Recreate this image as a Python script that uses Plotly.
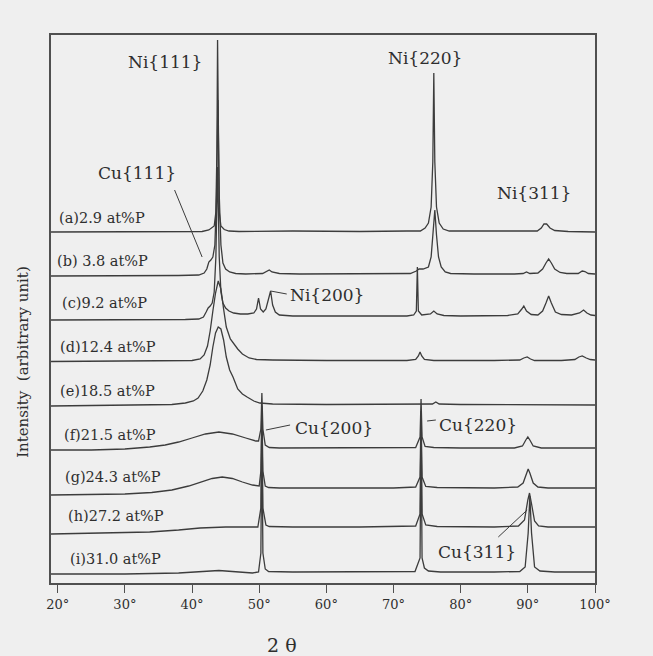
import plotly.graph_objects as go
import numpy as np

# ---------------- data (2-theta in degrees, intensity in arbitrary units above each pattern's baseline)
tt_a = [19.0, 30.0, 38.0, 41.5, 42.5, 42.9, 43.3, 43.55, 43.7, 43.8, 43.9, 44.05, 44.3, 44.8, 45.5, 47.0, 55.0, 65.0, 72.0, 74.0,
        74.7, 75.2, 75.6, 75.85, 76.0, 76.15, 76.4, 76.8, 77.4, 78.3, 86.0, 91.4, 92.0, 92.4, 92.8, 93.3, 94.0, 96.0, 100.0]
I_a = [0, 0, 0, 0.5, 2, 4, 6, 20, 80, 192, 80, 20, 6, 2.5, 1, 0.5, 1, 0.5, 1, 1,
       4, 9, 25, 70, 159, 70, 25, 9, 3, 1, 1, 1, 4, 8, 8, 4, 1.5, 0.5, 0]

tt_b = [19.0, 30.0, 38.0, 41.0, 41.8, 42.2, 42.5, 42.8, 43.1, 43.4, 43.65, 43.85, 44.05, 44.3, 44.6, 45.0, 45.6, 46.5, 48.0, 50.5,
        51.1, 51.5, 51.9, 53.0, 56.0, 65.0, 70.0, 72.5, 73.4, 73.8, 74.4, 75.2, 75.6, 75.9, 76.15, 76.4, 76.7, 77.1, 77.7, 78.5,
        82.0, 88.0, 89.3, 89.8, 90.3, 91.5, 92.2, 92.7, 93.1, 93.5, 94.0, 94.8, 95.8, 97.5, 98.1, 98.5, 99.0, 100.0]
I_b = [-1, -1, -0.5, 0, 2, 6, 13, 15, 18, 30, 80, 175, 80, 30, 12, 6, 3, 1.5, 1, 1.5,
       4, 5, 3, 1.5, 1, 1, 1, 1.5, 4, 6, 6, 8, 18, 40, 65, 40, 18, 8, 3, 1.5,
       1, 1, 1.5, 3, 1.5, 2, 6, 12, 16, 12, 6, 2.5, 1.5, 1.5, 4, 3.5, 1.5, 1]

tt_c = [19.0, 30.0, 39.0, 41.0, 41.7, 42.1, 42.4, 42.7, 43.0, 43.3, 43.55, 43.8, 44.05, 44.3, 44.6, 45.0, 45.5, 46.2, 47.2, 48.3,
        49.2, 49.6, 49.9, 50.2, 50.6, 51.0, 51.4, 51.7, 52.0, 52.4, 53.0, 55.0, 65.0, 72.0, 73.0, 73.4, 73.55, 73.7, 74.2, 75.5,
        76.0, 76.5, 77.5, 80.0, 87.0, 88.5, 89.1, 89.4, 89.8, 90.5, 91.5, 92.2, 92.7, 93.1, 93.5, 94.1, 95.0, 96.5, 97.7, 98.3,
        98.8, 99.4, 100.0]
I_c = [-3, -3, -2.5, -2, 0, 5, 9, 11, 14, 25, 60, 150, 60, 25, 14, 9, 6, 4, 3, 3,
       4, 8, 19, 8, 5, 8, 20, 26, 12, 5, 2, 1, 1, 1, 2, 6, 50, 6, 2, 3,
       6, 3, 1.5, 1, 1.5, 3, 8, 11, 6, 2.5, 2, 6, 14, 21, 14, 5, 2.5, 2, 4, 7,
       4, 2, 1.5]

tt_d = [19.0, 30.0, 38.0, 40.0, 41.2, 41.8, 42.3, 42.7, 43.1, 43.5, 43.9, 44.3, 44.7, 45.1, 45.7, 46.3, 46.8, 47.5, 48.5, 49.6,
        52.0, 60.0, 72.0, 73.3, 73.7, 73.95, 74.2, 74.6, 76.0, 85.0, 88.8, 89.4, 89.9, 90.4, 91.0, 95.0, 97.0, 97.6, 98.1, 98.7,
        99.3, 100.0]
I_d = [-0.5, 0, 0, 0.5, 2, 6, 15, 30, 50, 68, 80, 72, 52, 34, 22, 16, 12, 7, 3, 1.5,
       1, 0.5, 0.5, 1.5, 5, 9, 5, 1.5, 0.5, 0.5, 1, 3, 4, 2, 0.5, 0.5, 1.5, 4, 5, 3,
       1.5, 1]

tt_e = [19.0, 30.0, 37.0, 39.0, 40.2, 40.9, 41.6, 42.2, 42.7, 43.1, 43.5, 43.9, 44.3, 44.7, 45.1, 45.6, 46.1, 46.8, 47.5, 48.2,
        49.2, 50.1, 52.0, 60.0, 72.0, 75.8, 76.3, 76.8, 80.0, 90.0, 100.0]
I_e = [-1, 0, 0.5, 2, 4, 7, 14, 25, 40, 58, 72, 78, 76, 65, 48, 35, 28, 16, 11, 8,
       4, 2, 1, 0.5, 0.5, 1, 3, 1, 0.5, 0.5, 0]

tt_f = [19.0, 25.0, 30.0, 33.7, 36.0, 38.0, 40.0, 42.0, 44.0, 46.0, 48.0, 49.5, 49.9, 50.25, 50.4, 50.55, 50.9, 51.5, 53.0, 60.0,
        70.0, 73.3, 73.95, 74.1, 74.25, 74.7, 76.0, 80.0, 88.0, 89.2, 89.7, 90.0, 90.3, 90.8, 92.0, 100.0]
I_f = [-1, -1, 0, 2, 4, 7, 11, 15, 17, 15, 11, 8, 8, 20, 56, 20, 4, 1.5, 1, 1,
       1, 1.5, 12, 50, 12, 2.5, 1.5, 1, 1, 3, 9, 12, 9, 3, 1, 1]

tt_g = [19.0, 25.0, 30.0, 34.0, 37.0, 39.5, 41.5, 43.0, 44.5, 46.0, 47.5, 49.0, 50.0, 50.25, 50.4, 50.55, 50.9, 51.4, 53.0, 60.0,
        70.0, 73.3, 73.95, 74.1, 74.25, 74.8, 76.5, 85.0, 88.5, 89.3, 89.8, 90.05, 90.3, 90.8, 91.5, 93.0, 100.0]
I_g = [-4, -3.5, -3, -1.5, 1, 5, 9, 12.5, 14, 12.5, 9, 6, 5, 20, 85, 20, 5, 3.5, 3, 3,
       3, 4, 14, 80, 14, 4.5, 3.5, 3, 4, 8, 18, 22, 18, 8, 4, 3, 3]

tt_h = [19.0, 27.0, 33.7, 38.0, 41.2, 45.0, 49.8, 50.25, 50.4, 50.55, 51.0, 51.5, 55.0, 65.0, 73.3, 73.95, 74.1, 74.25, 74.8, 76.5,
        85.0, 88.6, 89.5, 90.0, 90.25, 90.5, 91.0, 91.6, 93.0, 100.0]
I_h = [-4, -3, -2, 0, 2, 3, 3, 22, 120, 22, 5, 3.5, 3, 3, 4, 16, 110, 16, 5, 3.5,
       3, 4, 10, 30, 37, 28, 9, 4, 3, 3]

tt_i = [19.0, 30.0, 38.0, 42.0, 44.0, 46.0, 49.0, 49.9, 50.25, 50.4, 50.55, 50.9, 51.4, 55.0, 70.0, 73.2, 73.95, 74.1, 74.25, 74.6,
        75.2, 77.0, 85.0, 88.8, 89.6, 90.05, 90.3, 90.55, 91.0, 91.8, 94.0, 100.0]
I_i = [-1, -1, 0, 1.5, 2.5, 1.5, 0, 1, 20, 150, 20, 4, 1.5, 1, 1, 1.5, 15, 150, 15, 5,
       2, 1, 1, 1.5, 6, 40, 77, 40, 6, 2, 1, 1]

pattern_labels = ["(a)2.9 at%P", "(b) 3.8 at%P", "(c)9.2 at%P", "(d)12.4 at%P", "(e)18.5 at%P",
                  "(f)21.5 at%P", "(g)24.3 at%P", "(h)27.2 at%P", "(i)31.0 at%P"]
offsets = [351, 308, 266, 222, 178, 134, 92, 53, 10]

tick_vals = [20, 30, 40, 50, 60, 70, 80, 90, 100]
tick_text = ["20°", "30°", "40°", "50°", "60°", "70°", "80°", "90°", "100°"]

patterns = [(tt_a, I_a), (tt_b, I_b), (tt_c, I_c), (tt_d, I_d), (tt_e, I_e),
            (tt_f, I_f), (tt_g, I_g), (tt_h, I_h), (tt_i, I_i)]

# ---------------- figure
LINE = "#3c3c3c"
TXT = "#2e2e2e"
BG = "#efefef"
SERIF = "DejaVu Serif"

fig = go.Figure()
for (tt, inten), off, name in zip(patterns, offsets, pattern_labels):
    fig.add_trace(go.Scatter(x=tt, y=np.array(inten, dtype=float) + off, mode="lines",
                             line=dict(color=LINE, width=1.3), name=name, showlegend=False,
                             hoverinfo="skip"))

ann = []
label_x = [19.85, 19.55, 20.3, 20.0, 20.0, 20.6, 20.75, 21.2, 21.5]
for lbl, off, lx in zip(pattern_labels, offsets, label_x):
    ann.append(dict(x=lx, y=off + 14, text=lbl, xanchor="left", yanchor="middle", showarrow=False,
                    font=dict(family=SERIF, size=14.5, color=TXT)))

peak_font = dict(family=SERIF, size=17, color=TXT)
peak_labels = [
    ("Ni{111}", 35.9, 521, "center"),
    ("Cu{111}", 31.8, 410, "center"),
    ("Ni{220}", 74.7, 525, "center"),
    ("Ni{311}", 90.9, 390, "center"),
    ("Ni{200}", 54.3, 288, "left"),
    ("Cu{200}", 55.0, 155, "left"),
    ("Cu{220}", 76.5, 158, "left"),
    ("Cu{311}", 82.4, 31, "center"),
]
for t, x, y, xa in peak_labels:
    ann.append(dict(x=x, y=y, text=t, xanchor=xa, yanchor="middle", showarrow=False, font=peak_font))

ann.append(dict(x=53.4, yref="paper", y=-0.113, text="2 θ", xanchor="center", yanchor="middle",
                showarrow=False, font=dict(family=SERIF, size=19, color=TXT)))
ann.append(dict(xref="paper", x=-0.052, yref="paper", y=0.403, text="Intensity\u00a0\u00a0(arbitrary unit)",
                textangle=-90, xanchor="center", yanchor="middle", showarrow=False,
                font=dict(family=SERIF, size=15, color=TXT)))

# leader lines for peak labels
leaders = [
    (37.4, 393, 41.5, 326),   # Cu{111}
    (51.7, 292, 54.1, 289),   # Ni{200}
    (51.0, 153, 54.6, 158),   # Cu{200}
    (75.0, 162, 76.3, 163),   # Cu{220}
    (85.6, 46, 89.9, 73),     # Cu{311}
]
shapes = [dict(type="line", xref="x", yref="y", x0=a, y0=b, x1=c, y1=d,
               line=dict(color=LINE, width=1)) for a, b, c, d in leaders]

fig.update_layout(
    width=653, height=656,
    margin=dict(l=51, r=58, t=35, b=73),
    paper_bgcolor=BG, plot_bgcolor=BG,
    annotations=ann, shapes=shapes,
    xaxis=dict(range=[19.0, 100.0], tickvals=tick_vals, ticktext=tick_text,
               showgrid=False, zeroline=False, showline=True, linecolor="#505050", linewidth=2,
               mirror=True, ticks="outside", ticklen=8, tickwidth=1.2, tickcolor="#505050",
               tickfont=dict(family=SERIF, size=13, color=TXT)),
    yaxis=dict(range=[0, 548], showticklabels=False, showgrid=False, zeroline=False,
               showline=True, linecolor="#505050", linewidth=2, mirror=True, ticks=""),
)

fig.write_html("out.html")
